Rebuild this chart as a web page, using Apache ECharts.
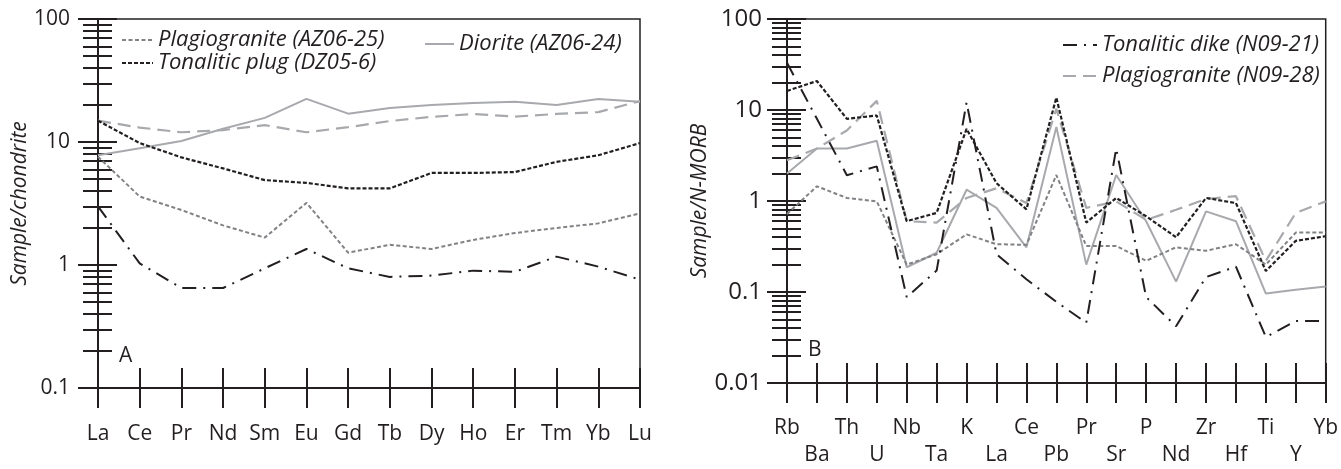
<!DOCTYPE html>
<html><head><meta charset="utf-8">
<script src="https://cdn.jsdelivr.net/npm/echarts@6/dist/echarts.min.js"></script>
<style>html,body{margin:0;padding:0;background:#fff}#c{width:1341px;height:469px}</style>
</head><body><div id="c"></div>
<script>
// ---------- DATA ----------
const reeCategories = ['La','Ce','Pr','Nd','Sm','Eu','Gd','Tb','Dy','Ho','Er','Tm','Yb','Lu'];
const reePlagioAZ0625 = [7.6,3.6,2.8,2.1,1.67,3.2,1.26,1.46,1.35,1.6,1.82,2.0,2.18,2.63];
const reeTonPlugDZ056 = [14.9,9.8,7.5,6.1,4.9,4.65,4.2,4.2,5.6,5.6,5.7,6.9,7.8,9.8];
const reeDioriteAZ0624 = [7.8,8.9,10.2,12.8,15.7,22.4,17.0,18.9,20.0,20.8,21.2,20.0,22.4,21.2];
const reeTonDikeN0921 = [3.0,1.03,0.65,0.65,0.94,1.35,0.94,0.80,0.82,0.90,0.88,1.17,0.97,0.76];
const reePlagioN0928 = [14.9,13.1,12.0,12.5,13.7,12.0,13.2,14.8,16.0,16.9,16.1,16.9,17.5,21.5];

const spiderCategories = ['Rb','Ba','Th','U','Nb','Ta','K','La','Ce','Pb','Pr','Sr','P','Nd','Zr','Hf','Ti','Y','Yb'];
const spTonDikeN0921 = [33,8.0,1.92,2.4,0.088,0.172,12.1,0.26,0.138,0.078,0.046,3.77,0.088,0.042,0.146,0.19,0.032,0.048,0.048];
const spTonPlugDZ056 = [16.2,20.8,8.0,8.7,0.60,0.74,6.2,1.57,0.81,13.7,0.58,1.08,0.68,0.40,1.08,0.95,0.17,0.365,0.41];
const spPlagioN0928 = [2.8,3.77,5.96,12.6,0.60,0.58,1.08,1.38,0.95,10.3,0.84,0.99,0.62,0.80,1.05,1.13,0.22,0.74,0.99];
const spDioriteAZ0624 = [2.0,3.77,3.77,4.6,0.187,0.27,1.33,0.84,0.31,6.5,0.20,1.93,0.6,0.13,0.77,0.60,0.096,0.106,0.115];
const spPlagioAZ0625 = [0.72,1.45,1.08,0.99,0.20,0.26,0.43,0.335,0.33,1.93,0.32,0.32,0.22,0.31,0.284,0.335,0.20,0.45,0.45];

const leftMajorTicks = [0.1,1,10,100];
const rightMajorTicks = [0.01,0.1,1,10,100];

// ---------- STYLE ----------
const INK = '#231f20';
const FONT = "'Open Sans', sans-serif";
const NAMES = {
  pAZ: 'Plagiogranite (AZ06-25)',
  tDZ: 'Tonalitic plug (DZ05-6)',
  dAZ: 'Diorite (AZ06-24)',
  tN: 'Tonalitic dike (N09-21)',
  pN: 'Plagiogranite (N09-28)'
};
const STYLES = {
  pAZ: {color:'#808285', width:2, type:[4,2.5]},
  tDZ: {color:INK, width:2.2, type:[4,2]},
  dAZ: {color:'#a7a9ac', width:2, type:'solid'},
  tN: {color:INK, width:2, type:[14,7,2,7]},
  pN: {color:'#a7a9ac', width:2.2, type:[13,7]}
};

function minorValues(lo, hi) {
  const out = [];
  for (let d = lo; d < hi; d *= 10) for (let k = 2; k <= 9; k++) out.push(+(k * d).toPrecision(3));
  return out;
}
function fmt(v){ return String(+(+v).toPrecision(3)); }

function yAxes(gi, min, max, majors, labelSize, labelMargin, name, nameGap) {
  return [
    {type:'log', logBase:10, gridIndex:gi, min, max, position:'left',
     axisLine:{show:true, lineStyle:{color:INK, width:2}},
     axisTick:{show:false}, splitLine:{show:false}, minorTick:{show:false},
     axisLabel:{margin:labelMargin, fontSize:labelSize, color:INK, fontFamily:FONT, formatter:fmt, customValues: majors},
     name, nameLocation:'middle', nameGap, nameRotate:90,
     nameTextStyle:{fontSize:21, fontStyle:'italic', color:INK, fontFamily:FONT}},
    {type:'log', logBase:10, gridIndex:gi, min, max, position:'left', offset:-19,
     axisLine:{show:false}, splitLine:{show:false}, axisLabel:{show:false},
     axisTick:{show:true, length:39, customValues: majors, lineStyle:{color:INK, width:2}}},
    {type:'log', logBase:10, gridIndex:gi, min, max, position:'left', offset:-14,
     axisLine:{show:false}, splitLine:{show:false}, axisLabel:{show:false},
     axisTick:{show:true, length:29, customValues: minorValues(min, max), lineStyle:{color:INK, width:2}}}
  ];
}
function xAxes(gi, cats, labelCfg) {
  return [
    {type:'category', gridIndex:gi, data:cats, boundaryGap:false, position:'bottom',
     axisLine:{show:true, lineStyle:{color:INK, width:2}}, axisTick:{show:false}, splitLine:{show:false},
     axisLabel:Object.assign({interval:0, color:INK, fontFamily:FONT, fontSize:21, hideOverlap:false}, labelCfg)},
    {type:'category', gridIndex:gi, data:cats, boundaryGap:false, position:'bottom', offset:-20,
     axisLine:{show:false}, splitLine:{show:false}, axisLabel:{show:false},
     axisTick:{show:true, interval:0, length:40, lineStyle:{color:INK, width:2}}}
  ];
}
function line(key, gi, data) {
  return {type:'line', name:NAMES[key], xAxisIndex:gi*2, yAxisIndex:gi*3, data, symbol:'none',
          lineStyle:STYLES[key], itemStyle:{color:STYLES[key].color}, z:5, animation:false, silent:true};
}

const legendText = {fontSize:22, lineHeight:22, fontStyle:'italic', color:INK, fontFamily:FONT};
const legendCommon = {orient:'vertical', itemHeight:14, selectedMode:false, textStyle:legendText,
                      itemStyle:{opacity:0}, padding:0};
const option = {
  animation:false,
  grid:[
    {left:98, right:701, top:19, bottom:81, show:true, borderColor:INK, borderWidth:1.5, backgroundColor:'transparent'},
    {left:787, right:14, top:19, bottom:81, show:true, borderColor:INK, borderWidth:1.5, backgroundColor:'transparent'}
  ],
  xAxis:[
    ...xAxes(0, reeCategories, {margin:36, lineHeight:20}),
    ...xAxes(1, spiderCategories, {margin:32, lineHeight:27, formatter:(v,i)=> i%2 ? '\n'+v : v})
  ],
  yAxis:[
    ...yAxes(0, 0.1, 100, leftMajorTicks, 21, 28, 'Sample/chondrite', 62),
    ...yAxes(1, 0.01, 100, rightMajorTicks, 24, 25, 'Sample/N-MORB', 66)
  ],
  legend:[
    Object.assign({data:[NAMES.pAZ, NAMES.tDZ], left:121, top:29, itemWidth:31, itemGap:1}, legendCommon),
    Object.assign({data:[NAMES.dAZ], left:424, top:33, itemWidth:29}, legendCommon),
    Object.assign({data:[NAMES.tN, NAMES.pN], left:1062, top:34, itemWidth:34, itemGap:9}, legendCommon)
  ],
  graphic:[
    {type:'text', left:119, top:346, style:{text:'A', fontSize:21, fill:INK, fontFamily:FONT}},
    {type:'text', left:808, top:340, style:{text:'B', fontSize:21, fill:INK, fontFamily:FONT}}
  ],
  series:[
    line('pN',0,reePlagioN0928), line('dAZ',0,reeDioriteAZ0624), line('tDZ',0,reeTonPlugDZ056),
    line('pAZ',0,reePlagioAZ0625), line('tN',0,reeTonDikeN0921),
    line('pN',1,spPlagioN0928), line('dAZ',1,spDioriteAZ0624), line('tDZ',1,spTonPlugDZ056),
    line('pAZ',1,spPlagioAZ0625), line('tN',1,spTonDikeN0921)
  ]
};
const chart = echarts.init(document.getElementById('c'), null, {renderer:'canvas'});
chart.setOption(option);
</script>
</body></html>
